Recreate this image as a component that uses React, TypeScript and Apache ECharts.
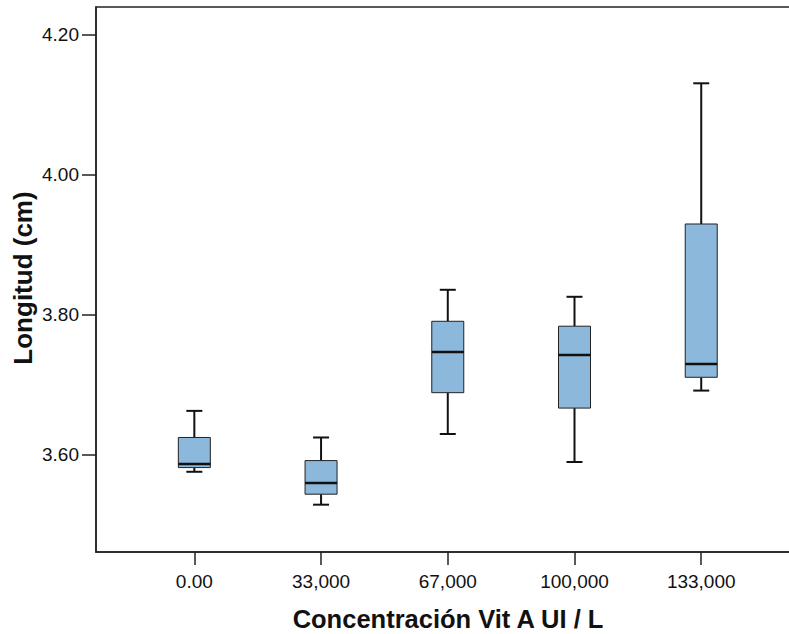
import React, { useEffect, useRef } from "react";
import * as echarts from "echarts";

const categories = ["0.00", "33,000", "67,000", "100,000", "133,000"];
const lows = [3.576, 3.529, 3.630, 3.590, 3.692];
const q1s = [3.582, 3.544, 3.689, 3.667, 3.711];
const medians = [3.587, 3.560, 3.747, 3.743, 3.730];
const q3s = [3.625, 3.592, 3.791, 3.784, 3.930];
const highs = [3.663, 3.625, 3.836, 3.826, 4.131];
const yTicks = [3.6, 3.8, 4.0, 4.2];

const BOX_W = 32;
const CAP_W = 16;
const FONT = "'Liberation Sans', Arial, sans-serif";

export default function App() {
  const ref = useRef<HTMLDivElement>(null);
  useEffect(() => {
    if (!ref.current) return;
    const chart = echarts.init(ref.current, null, { renderer: "svg" });
    const data = categories.map((_, i) => [i, lows[i], q1s[i], medians[i], q3s[i], highs[i]]);
    chart.setOption({
      animation: false,
      backgroundColor: "#ffffff",
      grid: {
        left: 96,
        top: 7,
        bottom: 82,
        right: -6,
        show: true,
        borderColor: "#222",
        borderWidth: 1.5,
        containLabel: false,
        outerBoundsMode: "none",
      },
      xAxis: {
        type: "value",
        min: -0.776,
        max: 4.74,
        splitLine: { show: false },
        axisLine: { show: true, onZero: false, lineStyle: { color: "#222", width: 1.5 } },
        axisTick: {
          show: true,
          customValues: [0, 1, 2, 3, 4],
          length: 13,
          lineStyle: { color: "#222", width: 1.5 },
        },
        axisLabel: {
          customValues: [0, 1, 2, 3, 4],
          formatter: (v: number) => categories[Math.round(v)] ?? "",
          color: "#111",
          fontFamily: FONT,
          fontSize: 19,
          margin: 20,
        },
      },
      yAxis: {
        type: "value",
        min: 3.4614,
        max: 4.24,
        splitLine: { show: false },
        axisLine: { show: true, onZero: false, lineStyle: { color: "#222", width: 1.5 } },
        axisTick: {
          show: true,
          customValues: yTicks,
          length: 14,
          lineStyle: { color: "#222", width: 1.5 },
        },
        axisLabel: {
          customValues: yTicks,
          formatter: (v: number) => v.toFixed(2),
          color: "#111",
          fontFamily: FONT,
          fontSize: 19,
          margin: 17,
        },
      },
      graphic: [
        {
          type: "text",
          x: 23,
          y: 278,
          rotation: Math.PI / 2,
          style: {
            text: "Longitud (cm)",
            fill: "#111",
            font: `bold 26px ${FONT}`,
            align: "center",
            verticalAlign: "middle",
          },
        },
        {
          type: "text",
          x: 448,
          y: 619,
          style: {
            text: "Concentración Vit A UI / L",
            fill: "#111",
            font: `bold 25.5px ${FONT}`,
            align: "center",
            verticalAlign: "middle",
          },
        },
      ],
      series: [
        {
          type: "custom",
          data,
          encode: { x: 0, y: [1, 2, 3, 4, 5] },
          renderItem: (params: any, api: any) => {
            const x = api.value(0);
            const pLo = api.coord([x, api.value(1)]);
            const pQ1 = api.coord([x, api.value(2)]);
            const pMed = api.coord([x, api.value(3)]);
            const pQ3 = api.coord([x, api.value(4)]);
            const pHi = api.coord([x, api.value(5)]);
            const cx = pLo[0];
            const stroke = "#111";
            return {
              type: "group",
              children: [
                {
                  type: "line",
                  shape: { x1: cx, y1: pQ3[1], x2: cx, y2: pHi[1] },
                  style: { stroke, lineWidth: 2 },
                },
                {
                  type: "line",
                  shape: { x1: cx, y1: pQ1[1], x2: cx, y2: pLo[1] },
                  style: { stroke, lineWidth: 2 },
                },
                {
                  type: "line",
                  shape: { x1: cx - CAP_W / 2, y1: pHi[1], x2: cx + CAP_W / 2, y2: pHi[1] },
                  style: { stroke, lineWidth: 2 },
                },
                {
                  type: "line",
                  shape: { x1: cx - CAP_W / 2, y1: pLo[1], x2: cx + CAP_W / 2, y2: pLo[1] },
                  style: { stroke, lineWidth: 2 },
                },
                {
                  type: "rect",
                  shape: { x: cx - BOX_W / 2, y: pQ3[1], width: BOX_W, height: pQ1[1] - pQ3[1] },
                  style: { fill: "#8cb8db", stroke: "#222", lineWidth: 1 },
                },
                {
                  type: "line",
                  shape: { x1: cx - BOX_W / 2, y1: pMed[1], x2: cx + BOX_W / 2, y2: pMed[1] },
                  style: { stroke, lineWidth: 2.5 },
                },
              ],
            };
          },
        },
      ],
    });
    return () => chart.dispose();
  }, []);
  return <div ref={ref} style={{ width: 789, height: 634, position: "absolute", left: 0, top: 0 }} />;
}
